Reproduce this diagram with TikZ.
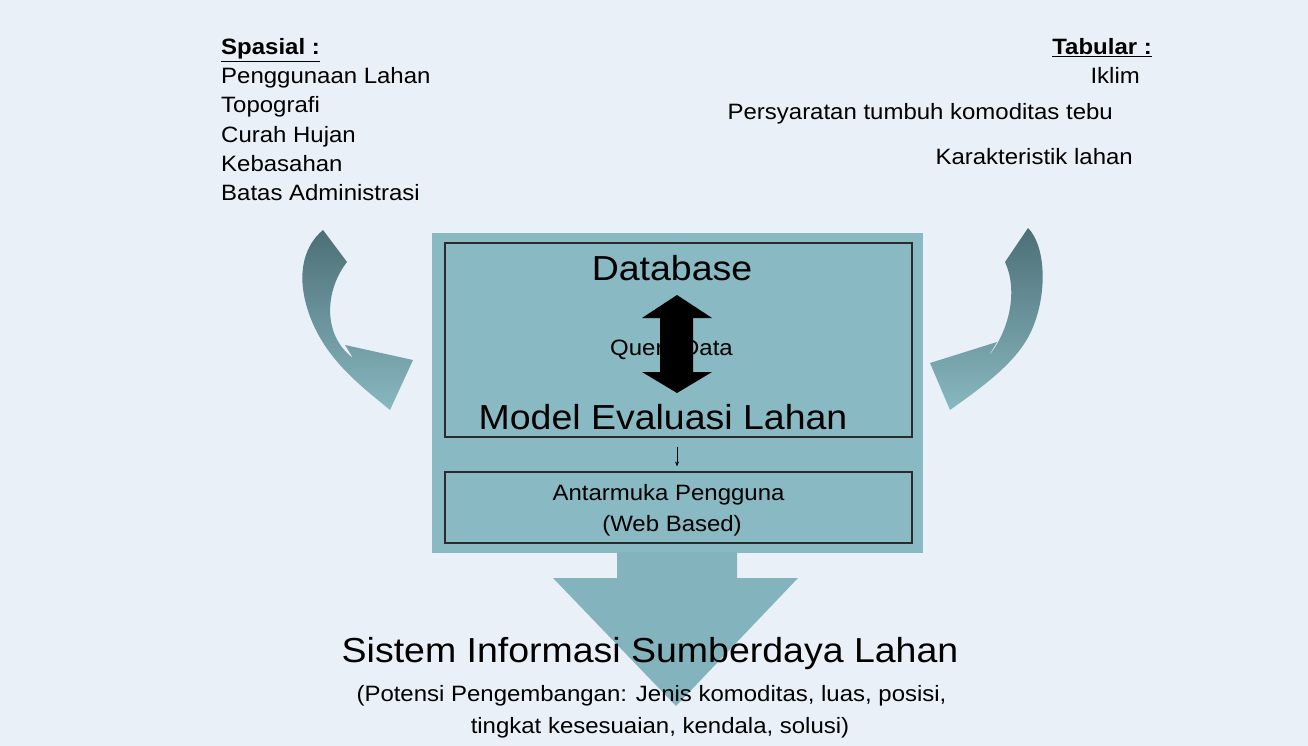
\documentclass[tikz,border=0pt]{standalone}
\usepackage{fontspec}
\setmainfont{Liberation Sans}
\usepackage{graphicx}
\usetikzlibrary{arrows.meta}
\definecolor{bgpage}{HTML}{EAF0F8}
\definecolor{boxteal}{HTML}{89B9C2}
\definecolor{bigarrow}{HTML}{83B4BD}
\definecolor{arrowdark}{HTML}{4D6F77}
\definecolor{arrowlight}{HTML}{88B8C0}
\definecolor{edgegray}{HTML}{2B2B2B}
\newcommand{\fs}[1]{\fontsize{#1}{#1}\selectfont}
\newcommand{\hs}[1]{\scalebox{1.08}[1]{#1}}
\tikzset{
  panel/.style={fill=boxteal, draw=none, inner sep=0pt},
  innerbox/.style={fill=boxteal, draw=edgegray, line width=1.1pt, inner sep=0pt},
  lbl/.style={inner sep=0pt, text=black, font=\fs{22.2}},
  big/.style={inner sep=0pt, text=black, font=\fs{34.7}},
  curved/.style={top color=arrowdark, middle color=arrowdark, bottom color=arrowlight},
}
\begin{document}
\begin{tikzpicture}[x=1pt,y=-1pt]
\fill[bgpage] (0,0) rectangle (1308,746);
\useasboundingbox (0,0) rectangle (1308,746);

% curved arrows
\shade[curved] (323,230) -- (347,262) .. controls (325,290) and (322,335) .. (353,358)
  -- (345,345) -- (413,360) -- (390,410)
  .. controls (360,385) and (318,355) .. (305,300)
  .. controls (298,270) and (305,245) .. (323,230) -- cycle;
\shade[curved] (1028,228) .. controls (1045,245) and (1048,290) .. (1033,327)
  .. controls (1020,360) and (985,385) .. (950,410)
  -- (930,363) -- (997,342) -- (988,357)
  .. controls (1010,330) and (1018,290) .. (1005,262) -- cycle;

% outer panel
\node[panel, minimum width=491pt, minimum height=320pt] (outer) at (677.5,392.5) {};
% big down arrow
\fill[bigarrow] (617,552) -- (737,552) -- (737,578) -- (798,578) -- (676,706)
  -- (553,578) -- (617,578) -- cycle;

% inner boxes
\node[innerbox, minimum width=467pt, minimum height=194pt] (db) at (678.5,340) {};
\node[innerbox, minimum width=467pt, minimum height=71pt] (ui) at (678.5,507.5) {};

% texts in boxes
\node[big] (dbt) at (672,268) {\hs{Database}};
\node[lbl, anchor=base] (query) at (671.5,355) {\hs{Query Data}};
\fill[black] (677,295) -- (712,318) -- (693,318) -- (693,372) -- (712,372) -- (677,393)
  -- (642,372) -- (660,372) -- (660,318) -- (642,318) -- cycle;
\node[big] (model) at (663,417) {\hs{Model Evaluasi Lahan}};
\node[lbl, anchor=base] (ant) at (668.5,500) {\hs{Antarmuka Pengguna}};
\node[lbl, anchor=base] (web) at (672,531) {\hs{(Web Based)}};
\draw[-{Stealth[length=5pt,width=4pt]}, line width=0.9pt] ([yshift=-9pt]db.south -| 677,0) -- ([yshift=5pt]ui.north -| 677,0);

% left list
\node[lbl, anchor=base west, font=\fs{22.2}\bfseries] (spasial) at (221,55) {\hs{\underline{Spasial :}}};
\node[lbl, anchor=base west] (l1) at (221,84) {\hs{Penggunaan Lahan}};
\node[lbl, anchor=base west] (l2) at (221,113) {\hs{Topografi}};
\node[lbl, anchor=base west] (l3) at (221,142.5) {\hs{Curah Hujan}};
\node[lbl, anchor=base west] (l4) at (221,171.5) {\hs{Kebasahan}};
\node[lbl, anchor=base west] (l5) at (221,200.5) {\hs{Batas Administrasi}};

% right list
\node[lbl, anchor=base east, font=\fs{22.2}\bfseries] (tabular) at (1152,55) {\hs{\underline{Tabular :}}};
\node[lbl, anchor=base east] (r1) at (1140,84) {\hs{Iklim}};
\node[lbl, anchor=base east] (r2) at (1113,119.5) {\hs{Persyaratan tumbuh komoditas tebu}};
\node[lbl, anchor=base east] (r3) at (1133,164.5) {\hs{Karakteristik lahan}};

% bottom
\node[big, anchor=base] (sis) at (650,662.5) {\hs{Sistem Informasi Sumberdaya Lahan}};
\node[lbl, anchor=base] (sub1) at (651.5,701) {\hs{(Potensi Pengembangan: Jenis komoditas, luas, posisi,}};
\node[lbl, anchor=base] (sub2) at (660,733) {\hs{tingkat kesesuaian, kendala, solusi)}};
\end{tikzpicture}
\end{document}
